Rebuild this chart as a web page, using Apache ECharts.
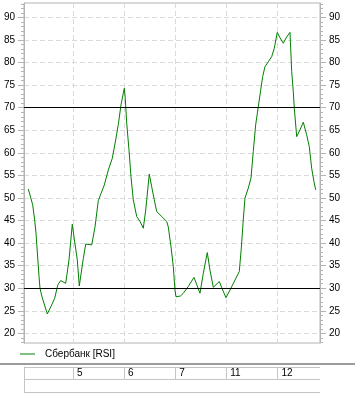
<!DOCTYPE html>
<html>
<head>
<meta charset="utf-8">
<script src="https://cdn.jsdelivr.net/npm/echarts@6/dist/echarts.min.js"></script>
<style>
html,body{margin:0;padding:0;background:#fff;}
#c{width:355px;height:400px;}
</style>
</head>
<body>
<div id="c"></div>
<script>
// ---- data ----
const seriesName = 'Сбербанк [RSI]';
const dayLabels = ['5', '6', '7', '11', '12'];
const dayStarts = [1, 2, 3, 4, 5];
const yTickValues = [20, 25, 30, 35, 40, 45, 50, 55, 60, 65, 70, 75, 80, 85, 90];
const yMinorValues = [18,19,20,21,22,23,24,25,26,27,28,29,30,31,32,33,34,35,36,37,38,39,40,41,42,43,44,45,46,47,48,49,50,51,52,53,54,55,56,57,58,59,60,61,62,63,64,65,66,67,68,69,70,71,72,73,74,75,76,77,78,79,80,81,82,83,84,85,86,87,88,89,90,91,92,93];
const levels = [70, 30];
const xRange = [0.041, 5.834];
const yRange = [17.87, 93.21];
// time (in trading days) and RSI value
const rsiT = [0.125,0.211,0.250,0.276,0.335,0.354,0.393,0.497,0.583,0.642,0.701,0.759,0.857,0.922,0.986,
  1.025,1.084,1.123,1.202,1.249,1.366,1.431,1.495,1.548,1.613,1.691,1.769,1.836,1.887,1.939,1.984,
  2.004,2.023,2.051,2.096,2.135,2.180,2.247,2.311,2.376,2.423,2.462,2.493,2.540,2.591,2.638,2.736,2.834,2.865,2.918,2.963,2.996,
  3.016,3.104,3.159,3.256,3.368,3.432,3.485,3.550,3.628,3.681,3.746,3.863,3.930,3.994,
  4.072,4.170,4.254,4.294,4.333,4.366,4.431,4.483,4.528,4.575,4.626,4.673,4.712,4.757,4.822,4.888,4.939,4.998,
  5.051,5.115,5.182,5.247,5.280,5.311,5.331,5.378,5.442,5.507,5.573,5.624,5.671,5.716,5.750];
const rsiV = [52.0,48.5,45.1,42.2,32.6,30.0,28.1,24.3,26.3,27.8,30.7,31.7,31.1,36.3,44.2,
  40.9,36.3,30.5,36.6,39.8,39.6,43.6,49.4,51.0,52.9,56.2,58.8,62.9,66.3,70.6,73.2,
  74.3,72.1,66.6,60.6,54.7,49.6,45.9,44.8,43.3,47.3,51.8,55.3,52.5,49.6,47.0,45.9,44.8,43.6,39.2,34.8,29.6,
  28.1,28.3,28.9,30.4,32.4,30.5,28.9,33.3,37.9,34.0,30.2,31.5,29.6,27.9,
  29.6,31.8,33.7,38.9,45.3,50.0,52.2,54.4,60.3,66.2,70.2,73.9,76.9,79.1,80.2,81.3,83.2,86.7,
  85.5,84.3,85.7,86.7,78.0,73.6,69.9,63.6,65.1,66.8,64.0,61.4,56.6,53.6,51.8];

// ---- chart ----
const FONT = 'Liberation Sans';
const gridGray = '#dadada';
const axisGray = '#b4b4b4';
const tableGray = '#c4c4c4';
const chart = echarts.init(document.getElementById('c'), null, {renderer: 'canvas'});

function mainY(pos, withLabels) {
  return {
    type: 'value', gridIndex: 0, position: pos, min: yRange[0], max: yRange[1],
    axisLine: {show: true, lineStyle: {color: axisGray, width: 1}},
    axisTick: {show: true, length: 6, customValues: yTickValues, lineStyle: {color: axisGray}},
    axisLabel: {show: withLabels, customValues: yTickValues, margin: 9, color: '#000',
      fontFamily: FONT, fontSize: 10, formatter: v => String(v)},
    splitLine: {show: pos === 'left', lineStyle: {color: gridGray, type: [5, 3], width: 1}}
  };
}
function minorY(pos) {
  return {
    type: 'value', gridIndex: 0, position: pos, min: yRange[0], max: yRange[1],
    axisLine: {show: false},
    axisTick: {show: true, length: 3, customValues: yMinorValues, lineStyle: {color: axisGray}},
    axisLabel: {show: false},
    splitLine: {show: false}
  };
}

const option = {
  animation: false,
  backgroundColor: '#fff',
  textStyle: {fontFamily: FONT},
  grid: [
    {left: 24, top: 3, width: 296, height: 340, show: true, borderColor: axisGray, borderWidth: 1, containLabel: false},
    {left: 24, top: 367, width: 296, height: 12, show: false, containLabel: false},
    {left: 24, top: 379, width: 296, height: 13, show: false, containLabel: false}
  ],
  legend: {
    left: 14, top: 349, itemWidth: 15, itemHeight: 12, padding: [0, 0, 0, 6],
    data: [{name: seriesName, icon: 'path://M0,0 L15,0 L15,1 L0,1 Z'}],
    itemStyle: {color: '#008000'},
    textStyle: {fontFamily: FONT, fontSize: 10, color: '#000', padding: [0, 0, 0, 5]}
  },
  xAxis: [
    {type: 'value', gridIndex: 0, min: xRange[0], max: xRange[1],
      axisLine: {show: false}, axisLabel: {show: false},
      axisTick: {show: false, customValues: dayStarts},
      splitLine: {show: true, lineStyle: {color: gridGray, type: [5, 3], width: 1}}},
    {type: 'value', gridIndex: 1, min: xRange[0], max: xRange[1], position: 'top',
      axisLine: {show: false},
      axisTick: {show: false, customValues: dayStarts},
      axisLabel: {show: true, inside: true, customValues: dayStarts, align: 'left', margin: 1,
        padding: [0, 0, 0, 4], color: '#000', fontFamily: FONT, fontSize: 10,
        formatter: v => dayLabels[dayStarts.indexOf(Math.round(v))] || ''},
      splitLine: {show: true, lineStyle: {color: tableGray, width: 1}}},
    {type: 'value', gridIndex: 2, min: xRange[0], max: xRange[1], show: false}
  ],
  yAxis: [
    mainY('left', true),
    mainY('right', true),
    minorY('left'),
    minorY('right'),
    {type: 'value', gridIndex: 1, min: 0, max: 1, interval: 1,
      axisLine: {show: true, lineStyle: {color: tableGray}}, axisTick: {show: false}, axisLabel: {show: false},
      splitLine: {show: true, lineStyle: {color: tableGray, width: 1}}},
    {type: 'value', gridIndex: 2, min: 0, max: 1, interval: 1,
      axisLine: {show: true, lineStyle: {color: tableGray}}, axisTick: {show: false}, axisLabel: {show: false},
      splitLine: {show: true, lineStyle: {color: tableGray, width: 1}}}
  ],
  graphic: [
    {type: 'rect', left: 0, top: 363, shape: {width: 355, height: 2}, style: {fill: '#9c9c9c'}, silent: true}
  ],
  series: [{
    name: seriesName, type: 'line', xAxisIndex: 0, yAxisIndex: 0,
    data: rsiT.map((t, i) => [t, rsiV[i]]),
    showSymbol: false, symbol: 'none',
    lineStyle: {color: '#008000', width: 1},
    itemStyle: {color: '#008000'},
    markLine: {
      silent: true, symbol: ['none', 'none'], label: {show: false},
      lineStyle: {color: '#000', type: 'solid', width: 1},
      data: levels.map(v => ({yAxis: v}))
    },
    z: 3
  }]
};
chart.setOption(option);
</script>
</body>
</html>
